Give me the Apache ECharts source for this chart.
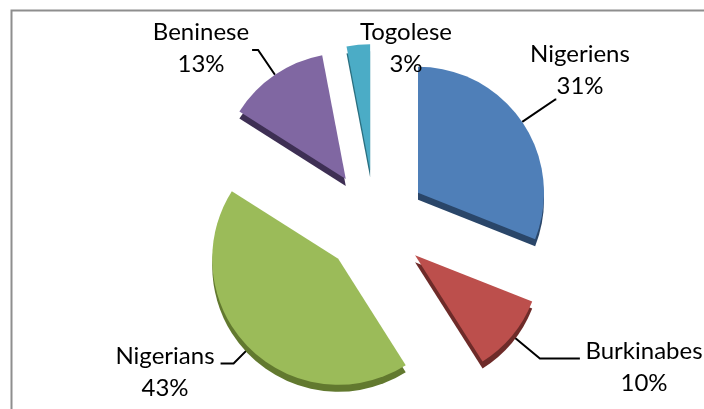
<!DOCTYPE html>
<html><head><meta charset="utf-8">
<script src="https://cdn.jsdelivr.net/npm/echarts@6/dist/echarts.min.js"></script>
<style>html,body{margin:0;padding:0;background:#fff}#c{width:704px;height:409px}</style>
</head><body><div id="c"></div>
<script>
// ---- data ----
const categories = ['Nigeriens', 'Burkinabes', 'Nigerians', 'Beninese', 'Togolese'];
const percentages = [31, 10, 43, 13, 3];

// ---- styles / layout ----
const sliceColors = ['#4F7FB8', '#BC4F4C', '#9BBB59', '#8067A2', '#4BACC6'];
const sideColors = ['#2A4669', '#6E2B29', '#62792F', '#3E2F54', '#2A6F80'];
const labelCenters = [[580, 70], [644, 367], [165, 372], [201, 48], [406, 48]];
const leaderLengths = [[40, 1], [36, 40], [22, 13], [30, 6], [0, 0]];

const pieCenter = [375, 222];
const pieRadius = 126;

const chart = echarts.init(document.getElementById('c'), null, {renderer: 'canvas'});
const option = {
  animation: false,
  backgroundColor: '#ffffff',
  graphic: [{
    type: 'rect', z: -10, silent: true,
    shape: {x: 11.5, y: 10.5, width: 740, height: 440},
    style: {fill: null, stroke: '#8e8e8e', lineWidth: 2}
  }],
  series: [
    // exploded slices with leader lines
    {
      type: 'pie',
      center: pieCenter,
      radius: pieRadius,
      startAngle: 90,
      clockwise: true,
      selectedMode: 'multiple',
      selectedOffset: 52,
      avoidLabelOverlap: false,
      emphasis: {disabled: true},
      select: {itemStyle: {borderWidth: 0}},
      silent: true,
      itemStyle: {borderWidth: 0, shadowBlur: 0.01, shadowOffsetX: 0, shadowOffsetY: 7},
      label: {show: true, position: 'outside', formatter: () => ' ', fontSize: 10, distanceToLabelLine: 0},
      labelLine: {show: true, lineStyle: {color: '#000', width: 2}, minTurnAngle: 0, maxSurfaceAngle: 180},
      data: categories.map((name, i) => ({
        name: name,
        value: percentages[i],
        selected: true,
        itemStyle: {color: sliceColors[i], shadowColor: sideColors[i]},
        labelLine: {show: name !== 'Togolese', length: leaderLengths[i][0], length2: leaderLengths[i][1]}
      }))
    },
    // text labels
    {
      type: 'pie',
      center: pieCenter,
      radius: pieRadius,
      startAngle: 90,
      clockwise: true,
      silent: true,
      z: 5,
      avoidLabelOverlap: false,
      emphasis: {disabled: true},
      itemStyle: {color: 'rgba(0,0,0,0)', borderWidth: 0},
      label: {
        show: true, position: 'outside', color: '#000',
        fontFamily: 'Lato', fontSize: 24, lineHeight: 32, align: 'center',
        formatter: p => p.name + '\n' + Math.round(p.percent) + '%'
      },
      labelLine: {show: false},
      labelLayout: p => ({
        x: labelCenters[p.dataIndex][0],
        y: labelCenters[p.dataIndex][1],
        align: 'center', verticalAlign: 'middle'
      }),
      data: categories.map((name, i) => ({name: name, value: percentages[i]}))
    }
  ]
};
chart.setOption(option);
</script></body></html>
